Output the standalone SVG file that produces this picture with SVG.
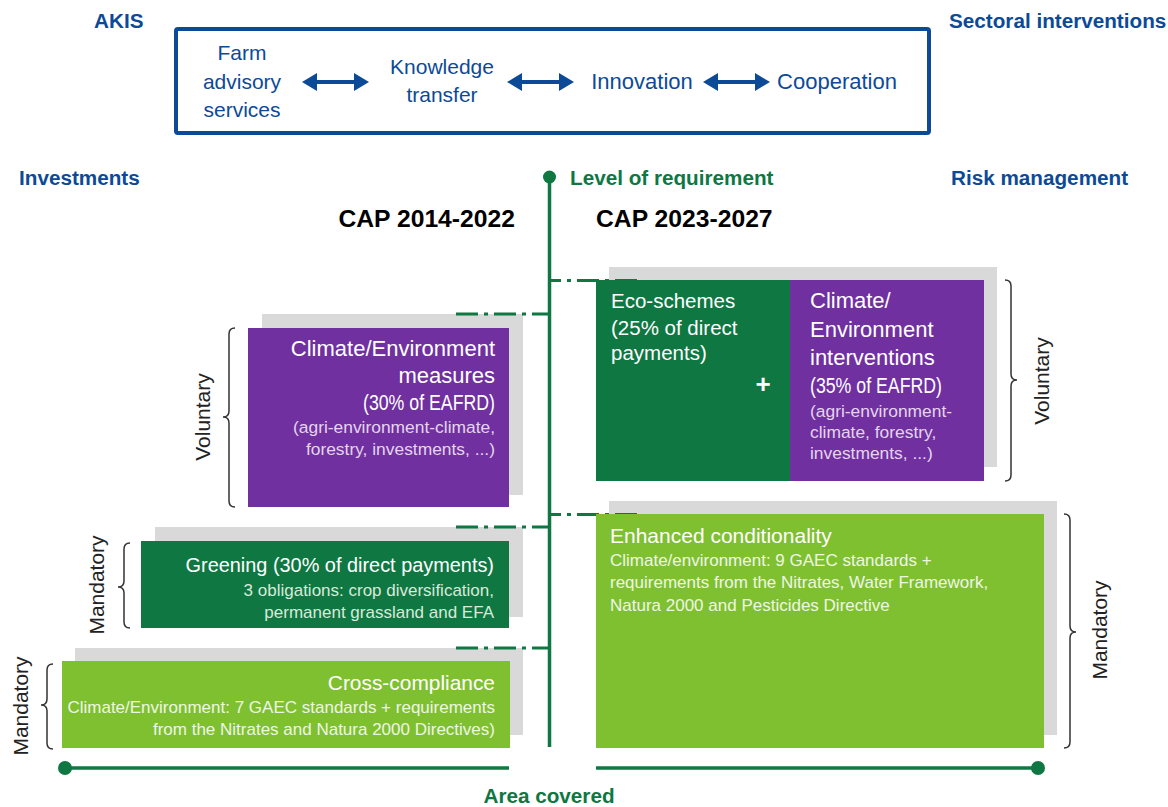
<svg xmlns="http://www.w3.org/2000/svg" width="1168" height="807" viewBox="0 0 1168 807">
  <style>
    text { font-family: "Liberation Sans", Arial, sans-serif; }
    .hdr { font-weight: bold; font-size: 20.7px; fill: #0C4A97; }
    .akis { font-size: 21px; fill: #0C4A97; }
    .cap { font-weight: bold; font-size: 24.7px; fill: #000; }
    .grn { font-weight: bold; font-size: 20.7px; fill: #0E7742; }
    .ttl { font-size: 20.5px; fill: #fff; }
    .big { font-size: 22px; }
    .sub { font-size: 17px; }
    .subP { fill: #E4D5EE; font-size: 17.4px; }
    .subD { fill: #D8EAD9; }
    .subL { fill: #EEF6E3; }
    .side { font-size: 21px; fill: #222; }
    .shadow { fill: #D9D9D9; }
    .dkg { fill: #0E7742; }
    .lig { fill: #7FC031; }
    .pur { fill: #7030A0; }
    .dash { stroke: #0E7742; stroke-width: 3; fill: none; stroke-dasharray: 22 6 4 6; }
    .axis { stroke: #0E7742; stroke-width: 3.5; fill: none; }
    .brace { stroke: #333; stroke-width: 1.5; fill: none; }
    .arr { fill: #0C4A97; }
  </style>
  <defs>
    <path id="dbl" d="M0,0 L15,-9 L15,-2 L52,-2 L52,-9 L67,0 L52,9 L52,2 L15,2 L15,9 Z"/>
  </defs>

  <!-- headers -->
  <g id="headers">
    <text class="hdr" x="94" y="28">AKIS</text>
    <text class="hdr" x="949" y="28">Sectoral interventions</text>
    <text class="hdr" x="19" y="185">Investments</text>
    <text class="hdr" x="951" y="185">Risk management</text>
    <text class="grn" x="570" y="185">Level of requirement</text>
    <text class="grn" x="549" y="803" text-anchor="middle">Area covered</text>
    <text class="cap" x="515" y="227" text-anchor="end">CAP 2014-2022</text>
    <text class="cap" x="596" y="227">CAP 2023-2027</text>
  </g>

  <!-- AKIS box -->
  <g id="akis-box">
    <rect x="176" y="29" width="753" height="104" rx="2" fill="none" stroke="#0C4A97" stroke-width="4"/>
  </g>
  <g id="farm-advisory">
    <text class="akis" text-anchor="middle" x="242" y="60">Farm</text>
    <text class="akis" text-anchor="middle" x="242" y="89">advisory</text>
    <text class="akis" text-anchor="middle" x="242" y="117">services</text>
  </g>
  <g id="knowledge-transfer">
    <text class="akis" text-anchor="middle" x="442" y="74">Knowledge</text>
    <text class="akis" text-anchor="middle" x="442" y="102">transfer</text>
  </g>
  <g id="innovation">
    <text class="akis" text-anchor="middle" x="642" y="89" style="font-size:22px">Innovation</text>
  </g>
  <g id="cooperation">
    <text class="akis" text-anchor="middle" x="837" y="89" style="font-size:22px">Cooperation</text>
  </g>

  <!-- shadows -->
  <g id="shadows">
    <rect class="shadow" x="262" y="314" width="261" height="181"/>
    <rect class="shadow" x="155" y="527" width="368" height="90"/>
    <rect class="shadow" x="75" y="648" width="448" height="87"/>
    <rect class="shadow" x="609" y="267" width="388" height="200"/>
    <rect class="shadow" x="609" y="501" width="448" height="234"/>
  </g>

  <!-- connectors -->
  <g id="connectors">
    <use href="#dbl" class="arr" x="302" y="82"/>
    <use href="#dbl" class="arr" x="507" y="82"/>
    <use href="#dbl" class="arr" x="703" y="82"/>
    <line class="axis" x1="549.5" y1="177" x2="549.5" y2="747"/>
    <circle cx="549.5" cy="177" r="6.5" fill="#0E7742"/>
    <line class="axis" x1="65" y1="768" x2="509" y2="768"/>
    <circle cx="65" cy="768" r="7" fill="#0E7742"/>
    <line class="axis" x1="596" y1="768" x2="1038" y2="768"/>
    <circle cx="1038" cy="768" r="7" fill="#0E7742"/>
    <line class="dash" x1="456" y1="314" x2="549" y2="314"/>
    <line class="dash" x1="456" y1="527" x2="549" y2="527"/>
    <line class="dash" x1="456" y1="648" x2="549" y2="648"/>
    <line class="dash" x1="549" y1="280.5" x2="643" y2="280.5" stroke-dashoffset="10"/>
    <line class="dash" x1="549" y1="514.5" x2="643" y2="514.5" stroke-dashoffset="10"/>
  </g>

  <!-- CAP 2014-2022 -->
  <g id="climate-env-measures">
    <rect class="pur" x="248" y="328" width="261" height="179"/>
    <text class="ttl big" text-anchor="end" x="495" y="356">Climate/Environment</text>
    <text class="ttl big" text-anchor="end" x="495" y="383">measures</text>
    <text class="ttl big" text-anchor="end" x="495" y="410" textLength="132" lengthAdjust="spacingAndGlyphs">(30% of EAFRD)</text>
    <text class="subP" text-anchor="end" x="495" y="433">(agri-environment-climate,</text>
    <text class="subP" text-anchor="end" x="495" y="455">forestry, investments, ...)</text>
  </g>
  <g id="greening">
    <rect class="dkg" x="141" y="541" width="368" height="87"/>
    <text class="ttl" text-anchor="end" x="494" y="572" style="font-size:19.9px">Greening (30% of direct payments)</text>
    <text class="sub subD" text-anchor="end" x="494" y="596">3 obligations: crop diversification,</text>
    <text class="sub subD" text-anchor="end" x="494" y="618">permanent grassland and EFA</text>
  </g>
  <g id="cross-compliance">
    <rect class="lig" x="62" y="661" width="448" height="87"/>
    <text class="ttl" text-anchor="end" x="495" y="690" style="font-size:20.9px">Cross-compliance</text>
    <text class="sub subL" text-anchor="end" x="495" y="713">Climate/Environment: 7 GAEC standards + requirements</text>
    <text class="sub subL" text-anchor="end" x="495" y="735">from the Nitrates and Natura 2000 Directives)</text>
  </g>

  <!-- CAP 2023-2027 -->
  <g id="eco-schemes">
    <rect class="dkg" x="596" y="280" width="194" height="201"/>
    <text class="ttl" x="611" y="308">Eco-schemes</text>
    <text class="ttl" x="611" y="335">(25% of direct</text>
    <text class="ttl" x="611" y="360">payments)</text>
    <text x="763" y="393" text-anchor="middle" style="font-size:26px;font-weight:bold;fill:#fff">+</text>
  </g>
  <g id="climate-env-interventions">
    <rect class="pur" x="790" y="280" width="194" height="201"/>
    <text class="ttl big" x="810" y="308">Climate/</text>
    <text class="ttl big" x="810" y="337">Environment</text>
    <text class="ttl big" x="810" y="365">interventions</text>
    <text class="ttl big" x="810" y="393" textLength="132" lengthAdjust="spacingAndGlyphs">(35% of EAFRD)</text>
    <text class="subP" x="810" y="417">(agri-environment-</text>
    <text class="subP" x="810" y="438">climate, forestry,</text>
    <text class="subP" x="810" y="459">investments, ...)</text>
  </g>
  <g id="enhanced-conditionality">
    <rect class="lig" x="596" y="514" width="448" height="234"/>
    <text class="ttl" x="610" y="543" style="font-size:21px">Enhanced conditionality</text>
    <text class="sub subL" x="610" y="566">Climate/environment: 9 GAEC standards +</text>
    <text class="sub subL" x="610" y="588">requirements from the Nitrates, Water Framework,</text>
    <text class="sub subL" x="610" y="611">Natura 2000 and Pesticides Directive</text>
  </g>

  <!-- braces and side labels -->
  <g id="brace-voluntary-left">
    <path class="brace" d="M235,328 Q229,328 229,334 V411 Q229,417 223,417 Q229,417 229,423 V501 Q229,507 235,507"/>
    <text class="side" text-anchor="middle" transform="translate(210,417) rotate(-90)">Voluntary</text>
  </g>
  <g id="brace-mandatory-greening">
    <path class="brace" d="M130,543 Q124,543 124,549 V581 Q124,587 118,587 Q124,587 124,593 V622 Q124,628 130,628"/>
    <text class="side" text-anchor="middle" transform="translate(104,585) rotate(-90)">Mandatory</text>
  </g>
  <g id="brace-mandatory-cross">
    <path class="brace" d="M53,664 Q47,664 47,670 V699 Q47,705 41,705 Q47,705 47,711 V743 Q47,749 53,749"/>
    <text class="side" text-anchor="middle" transform="translate(28,706) rotate(-90)">Mandatory</text>
  </g>
  <g id="brace-voluntary-right">
    <path class="brace" d="M1005,280 Q1011,280 1011,286 V374 Q1011,380 1017,380 Q1011,380 1011,386 V475 Q1011,481 1005,481"/>
    <text class="side" text-anchor="middle" transform="translate(1049,381) rotate(-90)">Voluntary</text>
  </g>
  <g id="brace-mandatory-right">
    <path class="brace" d="M1064,514 Q1070,514 1070,520 V626 Q1070,632 1076,632 Q1070,632 1070,638 V742 Q1070,748 1064,748"/>
    <text class="side" text-anchor="middle" transform="translate(1107,630) rotate(-90)">Mandatory</text>
  </g>
</svg>
